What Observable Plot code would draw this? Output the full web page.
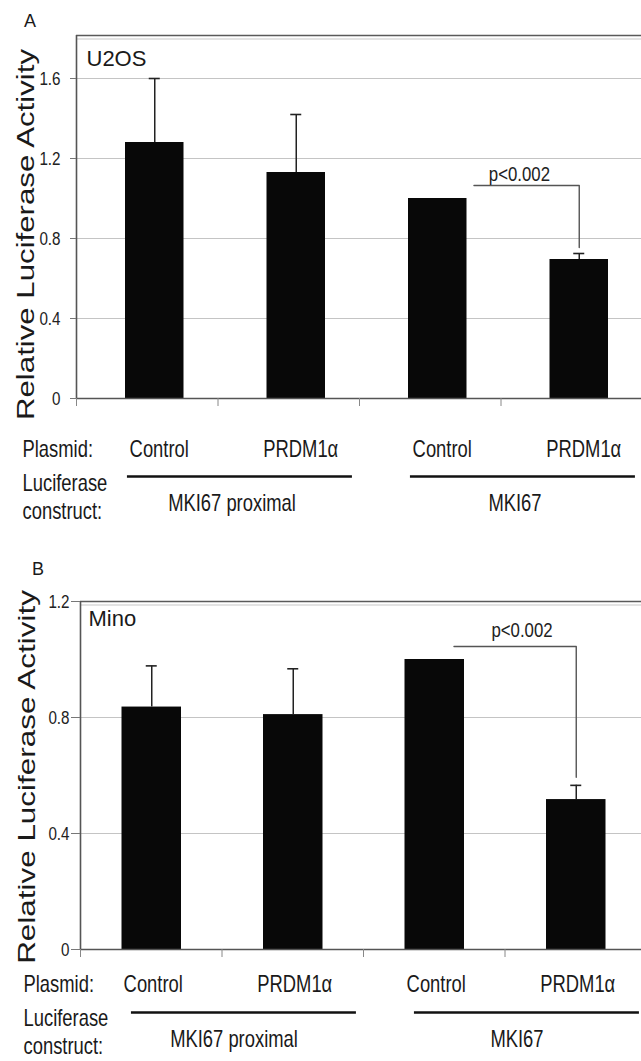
<!DOCTYPE html>
<html><head><meta charset="utf-8">
<script src="https://cdn.jsdelivr.net/npm/d3@7"></script>
<script src="https://cdn.jsdelivr.net/npm/@observablehq/plot@0.6"></script>
<style>
html,body{margin:0;padding:0;background:#fff;}
body{width:641px;height:1061px;overflow:hidden;}
#chart svg{display:block;}
</style></head><body><div id="chart"></div>
<script>
// ---- data ----
const plasmids = ["Control", "PRDM1α", "Control", "PRDM1α"];
const constructs = ["MKI67 proximal", "MKI67 proximal", "MKI67", "MKI67"];
const groupNames = ["MKI67 proximal", "MKI67"];
const u2osMeans = [1.28, 1.13, 1.00, 0.695];
const u2osErrors = [0.32, 0.29, 0, 0.03];
const minoMeans = [0.836, 0.81, 1.00, 0.517];
const minoErrors = [0.142, 0.158, 0, 0.049];
const yTicksU2OS = [0, 0.4, 0.8, 1.2, 1.6];
const yTicksMino = [0, 0.4, 0.8, 1.2];
const pValueLabel = "p<0.002";
const yTitle = "Relative Luciferase Activity";

// narrow look = regular Liberation Sans squeezed horizontally after rendering
const NARROW = "Liberation Sans, Arial, Helvetica Neue, sans-serif";
const REG = "Liberation Sans, Arial, Helvetica, sans-serif";
const NARROW_K = 0.8;

function rowsOf(means, errors) {
  return means.map((m, i) => ({i, mean: m, err: errors[i], plasmid: plasmids[i], construct: constructs[i]}));
}
const groups = groupNames.map(name => {
  const idx = constructs.map((c, i) => c === name ? i : -1).filter(i => i >= 0);
  return {name, first: d3.min(idx), last: d3.max(idx)};
});

function panel(cfg) {
  const rows = rowsOf(cfg.means, cfg.errors);
  const errRows = rows.filter(d => d.err > 0);
  const L = cfg.layout;
  const svg = Plot.plot({
    width: 641,
    height: L.height,
    marginTop: L.marginTop,
    marginBottom: L.marginBottom,
    marginLeft: L.xRange[0],
    marginRight: 0,
    style: {fontFamily: REG, color: "#1a1a1a", background: "#fff"},
    x: {domain: [0, 4], range: L.xRange},
    y: {domain: [0, cfg.yMax]},
    marks: [
      // gridlines
      Plot.ruleY(cfg.yTicks.filter(t => t > 0), {stroke: "#c4c4c4", strokeWidth: 1.2}),
      // frame top (double line)
      Plot.ruleY([cfg.yMax], {stroke: "#5a5a5a", strokeWidth: 1.6}),
      Plot.ruleY([cfg.yMax], {stroke: "#c8c8c8", strokeWidth: 1.2, dy: 3.5}),
      // bars
      Plot.rectY(rows, {x1: d => d.i, x2: d => d.i + 1, y: "mean", fill: "#080808",
        insetLeft: L.barInset[0], insetRight: L.barInset[1]}),
      // error bars
      Plot.ruleX(errRows, {x: d => d.i + 0.5, y1: "mean", y2: d => d.mean + d.err,
        dx: L.errDx, stroke: "#222", strokeWidth: 1.5}),
      Plot.ruleY(errRows, {x1: d => d.i + 0.5, x2: d => d.i + 0.5, y: d => d.mean + d.err,
        dx: L.errDx, insetLeft: -5.5, insetRight: -5.5, stroke: "#222", strokeWidth: 1.6}),
      // significance bracket (Control vs PRDM1α on MKI67)
      Plot.line([
        {x: L.bracketStart, y: L.bracketTop},
        {x: 3.5, y: L.bracketTop},
        {x: 3.5, y: L.bracketBottom}
      ], {x: "x", y: "y", dx: L.errDx, stroke: "#555", strokeWidth: 1.4, curve: "linear"}),
      Plot.text([pValueLabel], {x: L.pX, y: L.pY, lineAnchor: "bottom", fontSize: 21,
        fontFamily: NARROW, fill: "#222"}),
      // axes lines
      Plot.ruleX([0], {stroke: "#555", strokeWidth: 1.6}),
      Plot.ruleY([0], {stroke: "#555", strokeWidth: 1.6}),
      Plot.axisY({ticks: cfg.yTicks, tickSize: L.yTickSize, tickPadding: L.yTickPadding,
        tickFormat: d => String(d), fontSize: 19, fontFamily: NARROW, label: null, color: "#222", stroke: "#777"}),
      Plot.axisX({ticks: [0, 1, 2, 3], tickSize: 8, tickFormat: () => "", label: null, stroke: "#888"}),
      // cell line name
      Plot.text([cfg.cell], {frameAnchor: "top-left", dx: L.cellDx, dy: L.cellDy, lineAnchor: "bottom",
        textAnchor: "start", fontSize: 22, fontFamily: REG, fill: "#1a1a1a"}),
      // panel letter
      Plot.text([cfg.letter], {frameAnchor: "top-left", dx: L.letterDx, dy: L.letterDy, lineAnchor: "bottom",
        textAnchor: "middle", fontSize: 18, fontFamily: REG, fill: "#1a1a1a"}),
      // y title
      Plot.text([yTitle], {frameAnchor: "left", rotate: -90, dx: L.titleDx, dy: L.titleDy,
        textAnchor: "middle", lineAnchor: "bottom", fontSize: 24, fontFamily: REG, fill: "#1a1a1a"}),
      // category labels
      Plot.text(["Plasmid:"], {frameAnchor: "bottom-left", dx: L.rowLabelDx, dy: L.plasmidDy,
        textAnchor: "start", lineAnchor: "bottom", fontSize: 23, fontFamily: NARROW, fill: "#1a1a1a"}),
      Plot.text(rows, {x: d => d.i + 0.5, text: "plasmid", frameAnchor: "bottom", dx: L.labelDx,
        dy: L.plasmidDy, textAnchor: "middle", lineAnchor: "bottom", fontSize: 23, fontFamily: NARROW, fill: "#1a1a1a"}),
      Plot.text(["Luciferase\nconstruct:"], {frameAnchor: "bottom-left", dx: L.rowLabelDx, dy: L.constructDy,
        textAnchor: "start", lineAnchor: "bottom", lineHeight: 1.18, fontSize: 23, fontFamily: NARROW, fill: "#1a1a1a"}),
      Plot.ruleY(groups, {x1: g => g.first + 0.36, x2: g => g.last + 0.95, y: 0, dy: L.underlineDy,
        stroke: "#111", strokeWidth: 2.6}),
      Plot.text(groups, {x: g => (g.first + g.last + 1) / 2, text: "name", frameAnchor: "bottom",
        dx: L.groupDx, dy: L.groupDy, textAnchor: "middle", lineAnchor: "bottom", fontSize: 23, fontFamily: NARROW, fill: "#1a1a1a"})
    ]
  });
  // squeeze the "narrow" texts horizontally around their anchor point
  svg.querySelectorAll("g").forEach(g => {
    if (g.getAttribute("font-family") === NARROW) {
      g.querySelectorAll("text").forEach(t => {
        const tr = t.getAttribute("transform") || "";
        t.setAttribute("transform", tr + ` scale(${NARROW_K},1)`);
      });
    }
  });
  // stretch the rotated y title along its reading direction
  svg.querySelectorAll("text").forEach(t => {
    if (t.textContent === yTitle) {
      const tr = t.getAttribute("transform") || "";
      t.setAttribute("transform", tr + ` scale(${L.titleScale},1)`);
    }
  });
  return svg;
}

const chart = document.getElementById("chart");
chart.appendChild(panel({
  cell: "U2OS", letter: "A", means: u2osMeans, errors: u2osErrors, yMax: 1.815, yTicks: yTicksU2OS,
  layout: {
    height: 535, marginTop: 35, marginBottom: 137, xRange: [76, 642],
    barInset: [49, 34], errDx: 7.5,
    bracketStart: 2.756, bracketTop: 1.065, bracketBottom: 0.755, pX: 3.13, pY: 1.09,
    yTickSize: 6, yTickPadding: 10,
    cellDx: 10, cellDy: 30, letterDx: -46.5, letterDy: -9,
    titleDx: -43, titleDy: 17.5, titleScale: 1.30,
    rowLabelDx: -54, plasmidDy: 58, constructDy: 120, underlineDy: 78, groupDy: 112,
    labelDx: 12, groupDx: 14
  }
}));
chart.appendChild(panel({
  cell: "Mino", letter: "B", means: minoMeans, errors: minoErrors, yMax: 1.2, yTicks: yTicksMino,
  layout: {
    height: 526, marginTop: 66, marginBottom: 112, xRange: [80, 646],
    barInset: [41.5, 40.5], errDx: 0.5,
    bracketStart: 2.636, bracketTop: 1.045, bracketBottom: 0.594, pX: 3.12, pY: 1.076,
    yTickSize: 9, yTickPadding: 2,
    cellDx: 8, cellDy: 24, letterDx: -42.5, letterDy: -27,
    titleDx: -46, titleDy: 1.5, titleScale: 1.31,
    rowLabelDx: -57, plasmidDy: 42, constructDy: 104, underlineDy: 63, groupDy: 97,
    labelDx: 2, groupDx: 12
  }
}));
</script>
</body></html>
